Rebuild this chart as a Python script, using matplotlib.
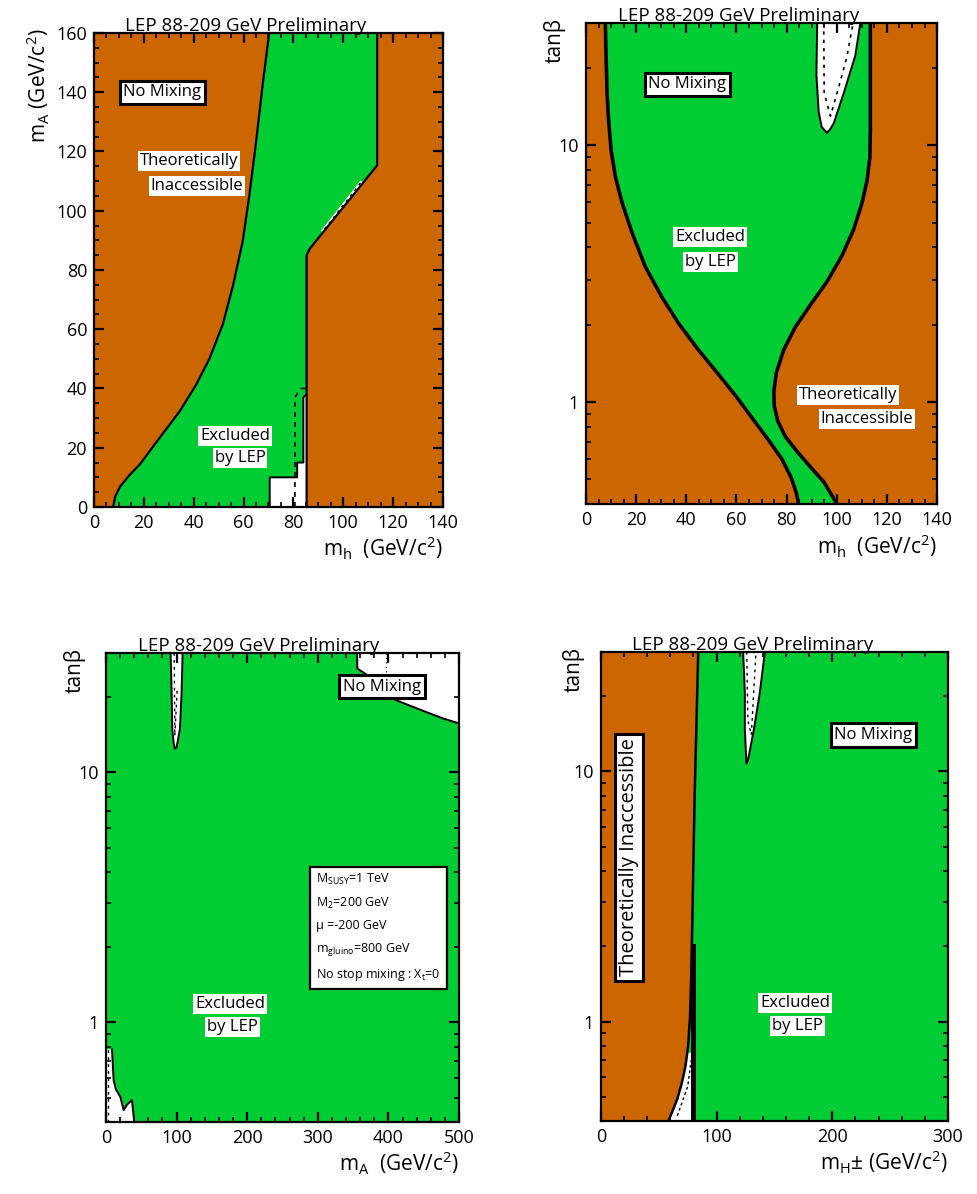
import matplotlib
matplotlib.use("Agg")
import matplotlib.pyplot as plt
import numpy as np
from matplotlib.ticker import MultipleLocator, FixedLocator, FixedFormatter, LogLocator, NullFormatter

ORANGE = "#cc6600"
GREEN = "#00cc33"

plt.rcParams["font.family"] = ["Open Sans", "DejaVu Sans"]
plt.rcParams["mathtext.default"] = "regular"

TITLE = "LEP 88-209 GeV Preliminary"
TANB_RANGE = (0.4, 30)

# --- (mh, mA) plane: edges of the excluded band
MH_P1_LEFT = [7.7, 8.5, 10.4, 14.0, 18.4, 26.4, 34.4, 41.0, 46.3, 51.7, 55.7, 59.7, 62.3, 65.0, 67.6, 70.3]
MA_P1_LEFT = [0, 3.5, 6.8, 10.5, 14.4, 23.4, 32.3, 41.3, 50.0, 61.7, 74.5, 89.8, 105, 123, 142, 160]
MH_P1_RIGHT = [113.6, 113.6, 86.6, 85.3, 85.3]
MA_P1_RIGHT = [160, 115.3, 87.2, 85.0, 0]
# allowed pocket at low mA
MH_P1_HOLE = [70.5, 70.5, 81.5, 81.5, 84.0, 84.0, 85.3, 85.3]
MA_P1_HOLE = [0, 10, 10, 15, 15, 37, 38, 0]
MH_P1_EXP = [80.6, 80.6, 83.0, 85.3]
MA_P1_EXP = [0, 37, 40, 40]
MH_P1_SLIVER = [92.0, 108.0, 107.0, 91.0]
MA_P1_SLIVER = [92.8, 109.5, 110.2, 93.2]

# --- (mh, tanb) plane
MH_P2_LEFT = [84.8, 83.9, 81.9, 78.2, 72.9, 66.2, 59.6, 52.3, 44.3, 37.0, 30.3, 23.7,
              18.4, 14.4, 11.7, 10.0, 9.0, 8.4, 8.0, 7.7]
TB_P2_LEFT = [0.4, 0.441, 0.505, 0.597, 0.708, 0.867, 1.06, 1.30, 1.62, 2.02, 2.56, 3.36,
              4.56, 5.98, 7.57, 9.6, 12.6, 15.96, 22.4, 30]
MH_P2_RIGHT = [113.4, 113.4, 113.2, 112.1, 110.1, 106.8, 102.1, 96.1, 89.5, 83.5, 78.9, 75.9,
               74.9, 75.1, 76.5, 79.5, 84.2, 89.5, 94.8, 100.1]
TB_P2_RIGHT = [30, 11.4, 8.97, 7.32, 5.98, 4.72, 3.72, 2.94, 2.39, 1.96, 1.60, 1.30,
               1.10, 0.96, 0.84, 0.733, 0.64, 0.558, 0.488, 0.4]
MH_P2_HOLE = [92.2, 91.9, 92.8, 94.0, 96.1, 97.5, 98.8, 102.8, 107.4, 109.4]
TB_P2_HOLE = [30, 18.9, 13.5, 11.8, 11.2, 11.6, 12.2, 16.0, 22.4, 30]
MH_P2_EXP = [94.8, 95.0, 97.5, 100.5, 104.0, 106.5]
TB_P2_EXP = [30, 16.0, 13.0, 16.5, 22.0, 30]

# --- (mA, tanb) plane
MA_P3_HOLE = [91.5, 92.9, 93.9, 96.0, 97.6, 100.0, 104.7, 107.1, 108.5]
TB_P3_HOLE = [30, 20.9, 14.9, 13.0, 12.4, 12.6, 14.9, 20.9, 30]
MA_P3_CORNER = [355.7, 356.0, 375, 395, 406, 430, 454, 478, 500, 500]
TB_P3_CORNER = [30, 26.0, 24.0, 21.5, 19.7, 18.5, 17.4, 16.4, 15.7, 30]
MA_P3_LOW = [0, 8.5, 10.8, 14.0, 20.3, 25.0, 30.0, 36.8, 40.0, 0]
TB_P3_LOW = [0.78, 0.78, 0.587, 0.54, 0.504, 0.446, 0.47, 0.489, 0.4, 0.4]

# --- (mH+-, tanb) plane
MC_P4_EDGE = [58.2, 62.0, 66.0, 70.0, 73.0, 75.4, 77.0, 78.0, 79.0, 80.0, 81.0, 82.5, 84.1]
TB_P4_EDGE = [0.4, 0.44, 0.49, 0.57, 0.66, 0.8, 1.05, 1.5, 2.5, 4.5, 8.0, 15.0, 30]
MC_P4_POCKET = [58.2, 62.0, 66.0, 70.0, 73.0, 74.5, 79.8, 79.8]
TB_P4_POCKET = [0.4, 0.44, 0.49, 0.57, 0.66, 0.75, 0.75, 0.4]
MC_P4_HOLE = [122.9, 124.4, 124.4, 125.8, 127.3, 132.2, 137.3, 141.7]
TB_P4_HOLE = [30, 20.6, 14.7, 10.7, 11.2, 14.7, 20.6, 30]
MC_P4_EXP = [126.0, 127.0, 130.0, 134.0]
TB_P4_EXP = [30, 16.0, 14.0, 30]
MC_P4_WALL = [79.8, 79.8]
TB_P4_WALL = [0.4, 2.0]

PARAMS = ("M$_{SUSY}$=1 TeV\nM$_2$=200 GeV\n\u03bc =-200 GeV\n"
          "m$_{gluino}$=800 GeV\nNo stop mixing : X$_t$=0")


def frame(ax):
    ax.tick_params(which="both", direction="in", top=True, right=True, labelsize=13, pad=5)
    ax.tick_params(which="major", length=7, width=1.6)
    ax.tick_params(which="minor", length=3.5, width=1.2)
    for s in ax.spines.values():
        s.set_linewidth(1.6)


def tanb_axis(ax):
    ax.set_yscale("log")
    ax.set_ylim(*TANB_RANGE)
    ax.yaxis.set_major_locator(FixedLocator([1, 10]))
    ax.yaxis.set_major_formatter(FixedFormatter(["1", "10"]))
    ax.yaxis.set_minor_locator(LogLocator(base=10, subs=np.arange(2, 10), numticks=12))
    ax.yaxis.set_minor_formatter(NullFormatter())


def labels(ax, xlabel, ylabel, ylab_x):
    ax.text(0.09, 1.004, TITLE, transform=ax.transAxes, ha="left", va="baseline", fontsize=13.5)
    ax.text(1.0, -0.088, xlabel, transform=ax.transAxes, ha="right", va="center", fontsize=15)
    ax.text(ylab_x, 1.01, ylabel, transform=ax.transAxes, ha="center", va="top",
            rotation=90, fontsize=15)


def boxed(ax, x, y, s, size=12, **kw):
    ax.text(x, y, s, ha="center", va="center", fontsize=size, zorder=6,
            bbox=dict(boxstyle="square,pad=0.22", fc="white", ec="black", lw=2.2), **kw)


def plain(ax, x, y, s):
    ax.text(x, y, s, ha="center", va="center", fontsize=12, zorder=6,
            bbox=dict(boxstyle="square,pad=0.12", fc="white", ec="none"))


def panel_mh_ma(ax):
    ax.set_facecolor(ORANGE)
    ax.fill(MH_P1_LEFT + MH_P1_RIGHT, MA_P1_LEFT + MA_P1_RIGHT, color=GREEN, lw=0)
    ax.fill(MH_P1_HOLE, MA_P1_HOLE, color="white", lw=0)
    ax.fill(MH_P1_SLIVER, MA_P1_SLIVER, color="white", lw=0)
    ax.plot(MH_P1_LEFT, MA_P1_LEFT, color="black", lw=1.6)
    ax.plot(MH_P1_RIGHT, MA_P1_RIGHT, color="black", lw=1.6)
    ax.plot(MH_P1_HOLE[:-1], MA_P1_HOLE[:-1], color="black", lw=1.4)
    ax.plot(MH_P1_EXP, MA_P1_EXP, color="black", lw=1.2, ls=(0, (3, 3)))
    ax.plot([92.5, 107.5], [93.8, 110.0], color="black", lw=1.0, ls=(0, (2, 3)))
    ax.set_xlim(0, 140)
    ax.set_ylim(0, 160)
    ax.xaxis.set_major_locator(MultipleLocator(20))
    ax.xaxis.set_minor_locator(MultipleLocator(5))
    ax.yaxis.set_major_locator(MultipleLocator(20))
    ax.yaxis.set_minor_locator(MultipleLocator(5))
    frame(ax)
    boxed(ax, 27.5, 140, "No Mixing")
    plain(ax, 38.1, 116.8, "Theoretically")
    plain(ax, 41.3, 108.5, "Inaccessible")
    plain(ax, 56.6, 24.0, "Excluded")
    plain(ax, 58.6, 16.5, "by LEP")
    labels(ax, "m$_h$  (GeV/c$^2$)", "m$_A$ (GeV/c$^2$)", -0.16)


def panel_mh_tanb(ax):
    ax.set_facecolor(ORANGE)
    ax.fill(MH_P2_LEFT + MH_P2_RIGHT, TB_P2_LEFT + TB_P2_RIGHT, color=GREEN, lw=0)
    ax.fill(MH_P2_HOLE, TB_P2_HOLE, color="white", ec="black", lw=1.4)
    ax.plot(MH_P2_EXP, TB_P2_EXP, color="black", lw=1.2, ls=(0, (2, 3)))
    ax.plot(MH_P2_LEFT, TB_P2_LEFT, color="black", lw=2.6)
    ax.plot(MH_P2_RIGHT, TB_P2_RIGHT, color="black", lw=2.6)
    ax.set_xlim(0, 140)
    tanb_axis(ax)
    ax.xaxis.set_major_locator(MultipleLocator(20))
    ax.xaxis.set_minor_locator(MultipleLocator(5))
    frame(ax)
    boxed(ax, 40.5, 17.3, "No Mixing")
    plain(ax, 49.6, 4.38, "Excluded")
    plain(ax, 49.6, 3.51, "by LEP")
    plain(ax, 104.4, 1.06, "Theoretically")
    plain(ax, 112.1, 0.861, "Inaccessible")
    labels(ax, "m$_h$  (GeV/c$^2$)", "tan\u03b2", -0.088)


def panel_ma_tanb(ax):
    ax.set_facecolor(GREEN)
    ax.fill(MA_P3_HOLE, TB_P3_HOLE, color="white", ec="black", lw=1.4)
    ax.plot([96.5, 97.5, 101.0], [30, 14.0, 22.0], color="black", lw=1.0, ls=(0, (2, 3)))
    ax.fill(MA_P3_CORNER, TB_P3_CORNER, color="white", lw=0)
    ax.plot(MA_P3_CORNER[:-1], TB_P3_CORNER[:-1], color="black", lw=1.4)
    ax.plot([397, 397], [30, 21], color="black", lw=0.8, ls=(0, (1, 3)))
    ax.fill(MA_P3_LOW, TB_P3_LOW, color="white", lw=0)
    ax.plot(MA_P3_LOW[1:-1], TB_P3_LOW[1:-1], color="black", lw=1.4)
    ax.plot([3, 3], [0.4, 0.78], color="black", lw=1.0, ls=(0, (2, 3)))
    ax.set_xlim(0, 500)
    tanb_axis(ax)
    ax.xaxis.set_major_locator(MultipleLocator(100))
    ax.xaxis.set_minor_locator(MultipleLocator(20))
    frame(ax)
    boxed(ax, 391, 22.0, "No Mixing")
    ax.text(298, 2.4, PARAMS, ha="left", va="center", fontsize=9, linespacing=1.8, zorder=6,
            bbox=dict(boxstyle="square,pad=0.5", fc="white", ec="black", lw=1.6))
    plain(ax, 176, 1.19, "Excluded")
    plain(ax, 179, 0.96, "by LEP")
    labels(ax, "m$_A$  (GeV/c$^2$)", "tan\u03b2", -0.09)


def panel_mc_tanb(ax):
    ax.set_facecolor(GREEN)
    ax.fill([0] + MC_P4_EDGE + [0], [0.4] + TB_P4_EDGE + [30], color=ORANGE, lw=0)
    ax.fill(MC_P4_POCKET, TB_P4_POCKET, color="white", lw=0)
    ax.plot([66, 75, 78], [0.42, 0.55, 0.7], color="black", lw=1.0, ls=(0, (2, 2)))
    ax.plot(MC_P4_EDGE, TB_P4_EDGE, color="black", lw=1.8)
    ax.plot(MC_P4_WALL, TB_P4_WALL, color="black", lw=3.6)
    ax.fill(MC_P4_HOLE, TB_P4_HOLE, color="white", ec="black", lw=1.4)
    ax.plot(MC_P4_EXP, TB_P4_EXP, color="black", lw=1.0, ls=(0, (2, 3)))
    ax.set_xlim(0, 300)
    tanb_axis(ax)
    ax.xaxis.set_major_locator(MultipleLocator(100))
    ax.xaxis.set_minor_locator(MultipleLocator(20))
    frame(ax)
    boxed(ax, 235.6, 14.0, "No Mixing")
    boxed(ax, 24.2, 4.54, "Theoretically Inaccessible", size=14.5, rotation=90)
    plain(ax, 168, 1.19, "Excluded")
    plain(ax, 169.6, 0.96, "by LEP")
    labels(ax, "m$_H$\u00b1 (GeV/c$^2$)", "tan\u03b2", -0.08)


fig = plt.figure(figsize=(9.77, 11.94), dpi=100)
panel_mh_ma(fig.add_axes([0.0962, 0.5754, 0.3572, 0.3970]))
panel_mh_tanb(fig.add_axes([0.5998, 0.5779, 0.3593, 0.4028]))
panel_ma_tanb(fig.add_axes([0.1085, 0.0603, 0.3613, 0.3928]))
panel_mc_tanb(fig.add_axes([0.6151, 0.0611, 0.3552, 0.3928]))
fig.savefig("out.png", dpi=100, facecolor="white")
